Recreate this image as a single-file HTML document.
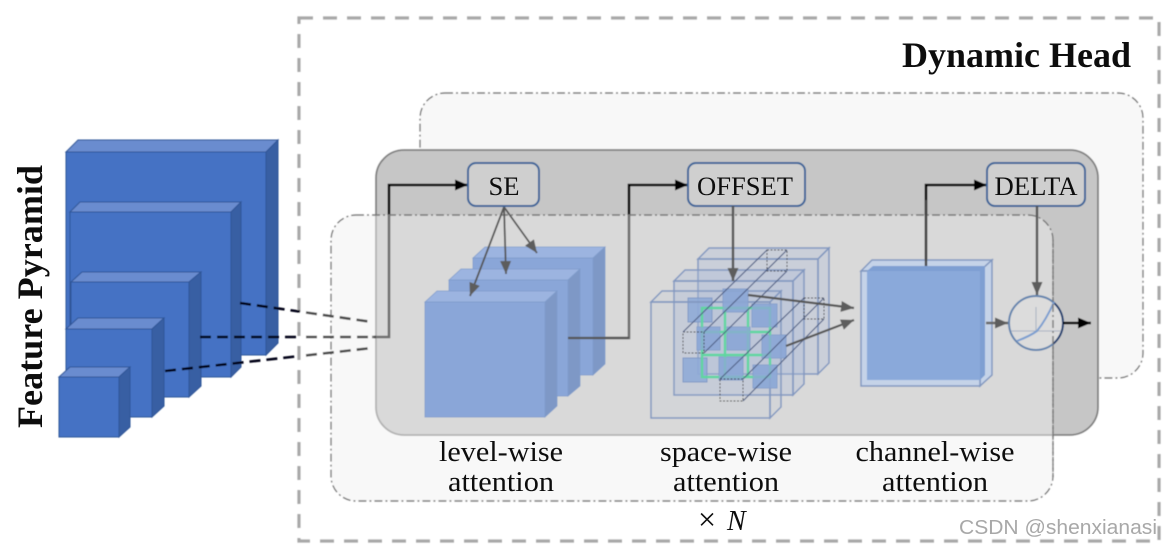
<!DOCTYPE html>
<html><head><meta charset="utf-8"><style>html,body{margin:0;padding:0;background:#fff}svg{display:block}text{font-family:"Liberation Serif",serif;fill:#111}</style></head><body>
<svg xmlns="http://www.w3.org/2000/svg" width="1163" height="547" viewBox="0 0 1163 547">
<defs>
<marker id="k" markerUnits="userSpaceOnUse" markerWidth="14" markerHeight="12" refX="13" refY="6" orient="auto"><path d="M0 0.5L13 6L0 11.5Z" fill="#000"/></marker>
<marker id="g" markerUnits="userSpaceOnUse" markerWidth="14" markerHeight="12" refX="13" refY="6" orient="auto"><path d="M0 0.5L13 6L0 11.5Z" fill="#5d5d5d"/></marker>
<filter id="b"><feGaussianBlur stdDeviation="0.5"/></filter>
<filter id="t"><feGaussianBlur stdDeviation="0.3"/></filter>
</defs>
<g filter="url(#b)">
<rect x="299" y="18" width="860" height="523" fill="#fff" stroke="#a8a8a8" stroke-width="3.2" stroke-dasharray="14 10"/>
<rect x="420" y="93" width="723" height="285" rx="25" fill="#f8f8f8" stroke="#777" stroke-width="1.4" stroke-dasharray="8 3 2 3"/>
<rect x="376" y="150" width="722" height="285" rx="28" fill="#c6c6c6" stroke="#808080" stroke-width="1.8"/>
<!-- lines under overlay -->
<path d="M372 337H389V185H468" fill="none" stroke="#000" stroke-width="2.6" marker-end="url(#k)"/>
<path d="M568 338H629V185H688" fill="none" stroke="#000" stroke-width="2.6" marker-end="url(#k)"/>
<path d="M926 265V185H987" fill="none" stroke="#000" stroke-width="2.6" marker-end="url(#k)"/>
<rect x="331" y="215" width="722" height="286" rx="25" fill="#efefef" fill-opacity=".46" stroke="#777" stroke-width="1.4" stroke-dasharray="8 3 2 3"/>
<!-- pyramid -->
<g stroke="#2f5597" stroke-width="1">
<path d="M66 152L78 140H278L266 152Z" fill="#6a8ccf"/><path d="M266 152L278 140V343L266 355Z" fill="#375fa3"/><rect x="66" y="152" width="200" height="203" fill="#4472c4"/>
<path d="M70 212L80 202H241L231 212Z" fill="#6a8ccf"/><path d="M231 212L241 202V367L231 377Z" fill="#375fa3"/><rect x="70" y="212" width="161" height="165" fill="#4472c4"/>
<path d="M71 282L82 272H201L189 282Z" fill="#6a8ccf"/><path d="M189 282L201 272V386L189 397Z" fill="#375fa3"/><rect x="71" y="282" width="118" height="115" fill="#4472c4"/>
<path d="M66 329L78 318H164L152 329Z" fill="#6a8ccf"/><path d="M152 329L164 318V406L152 417Z" fill="#375fa3"/><rect x="66" y="329" width="86" height="88" fill="#4472c4"/>
<path d="M59 377L70 367H130L119 377Z" fill="#6a8ccf"/><path d="M119 377L130 367V427L119 437Z" fill="#375fa3"/><rect x="59" y="377" width="60" height="60" fill="#4472c4"/>
</g>
<g fill="none" stroke-width="2.6" stroke-dasharray="11 6">
<path d="M240 303L300 311.6" stroke="#050518"/><path d="M306 312.5L372 322" stroke="#4a4a4a"/>
<path d="M200 337H300" stroke="#050518"/><path d="M306 337H376" stroke="#4a4a4a"/>
<path d="M165 371L300 356" stroke="#050518"/><path d="M306 355.4L372 348" stroke="#4a4a4a"/>
</g>
<!-- level-wise cubes -->
<g stroke="#7f9ccb" stroke-width=".8">
<path d="M473 258L485 247H605L593 258Z" fill="#9cb4e0"/><path d="M593 258L605 247V364L593 375Z" fill="#7e98c6"/><rect x="473" y="258" width="120" height="117" fill="#8aa6d8"/>
<path d="M449 280L461 269H580L568 280Z" fill="#9cb4e0"/><path d="M568 280L580 269V386L568 396Z" fill="#7e98c6"/><rect x="449" y="280" width="119" height="116" fill="#8aa6d8"/>
<path d="M425 302L437 291H557L545 302Z" fill="#9cb4e0"/><path d="M545 302L557 291V406L545 417Z" fill="#7e98c6"/><rect x="425" y="302" width="120" height="115" fill="#8aa6d8"/>
</g>
<path d="M568 338H629" stroke="#555" stroke-width="2.2"/>
<g fill="none" stroke="#555" stroke-width="1.8" marker-end="url(#g)">
<path d="M504 207L470 296"/><path d="M504 207L506 274"/><path d="M504 207L537 253"/>
</g>
<!-- boxes -->
<g fill="#cfcfcf" stroke="#3a6399" stroke-width="2">
<rect x="468" y="163" width="71" height="43" rx="8"/><rect x="688" y="163" width="117" height="43" rx="8"/><rect x="987" y="163" width="98" height="43" rx="8"/>
</g>
<!-- space-wise -->
<g stroke="#8298c0" stroke-width="1.5" fill="#a9bbdc" fill-opacity=".3">
<path d="M698 259L709 248H829L818 259Z"/><path d="M818 259L829 248V363L818 374Z"/><rect x="698" y="259" width="120" height="115"/>
<path d="M674 281L685 270H804L793 281Z"/><path d="M793 281L804 270V384L793 395Z"/><rect x="674" y="281" width="119" height="114"/>
</g>
<g fill="#8da8d6" fill-opacity=".9" stroke="#7d97c4" stroke-width="1">
<rect x="688" y="298" width="24" height="24"/><rect x="723" y="289" width="25" height="23"/><rect x="752" y="304" width="25" height="23"/>
<rect x="697" y="327" width="23" height="23"/><rect x="727" y="327" width="23" height="23"/><rect x="762" y="335" width="24" height="23"/>
<rect x="683" y="358" width="24" height="24"/><rect x="719" y="357" width="24" height="23"/><rect x="753" y="365" width="24" height="23"/>
</g>
<g stroke="#8298c0" stroke-width="1.5" fill="#a9bbdc" fill-opacity=".1">
<path d="M651 302L662 291H781L770 302Z"/><path d="M770 302L781 291V407L770 418Z"/><rect x="651" y="302" width="119" height="116"/>
</g>
<path d="M702 308H770V377H702ZM725 308V377M748 308V377M702 332H770M702 355H770" fill="none" stroke="#5fd6a0" stroke-width="2.4"/>
<g fill="#8da8d6" fill-opacity=".75">
<rect x="723" y="289" width="25" height="23"/><rect x="752" y="304" width="25" height="23"/>
<rect x="697" y="327" width="23" height="23"/><rect x="727" y="327" width="23" height="23"/><rect x="762" y="335" width="24" height="23"/>
<rect x="719" y="357" width="24" height="23"/><rect x="753" y="365" width="24" height="23"/>
</g>
<g fill="none" stroke="#333" stroke-width="1" stroke-dasharray="2 1.5">
<rect x="683" y="332" width="21" height="21"/><rect x="720" y="379" width="23" height="22"/><rect x="767" y="250" width="20" height="21"/><rect x="804" y="298" width="20" height="21"/>
</g>
<path d="M683 332L767 250M704 332L787 250M704 353L787 271M720 379L804 298M743 379L824 298M743 401L824 319" fill="none" stroke="#4c5b82" stroke-width="1.1"/>
<path d="M733 206V281" stroke="#555" stroke-width="2.4" marker-end="url(#g)"/>
<path d="M748 295L854 308" stroke="#555" stroke-width="2.2" fill="none" marker-end="url(#g)"/>
<path d="M786 346L854 320" stroke="#555" stroke-width="2.2" fill="none" marker-end="url(#g)"/>
<!-- channel-wise -->
<path d="M861 271L872 260H992L980 271Z" fill="#c5d3e8" stroke="#8298c0" stroke-width="1.5"/>
<path d="M980 271L992 260V375L980 386Z" fill="#c5d3e8" stroke="#8298c0" stroke-width="1.5"/>
<rect x="861" y="271" width="119" height="115" fill="#c5d3e8" stroke="#8298c0" stroke-width="1.5"/>
<path d="M867 271L873 266H985V375L980 380H867Z" fill="#7e9fd2"/>
<rect x="867" y="271" width="113" height="109" fill="#8aa9da"/>
<path d="M926 266V200" stroke="#444" stroke-width="2.4"/>
<path d="M986 323H1008" stroke="#666" stroke-width="2.4" marker-end="url(#g)"/>
<path d="M1037 206V295" stroke="#555" stroke-width="2.4" marker-end="url(#g)"/>
<circle cx="1036" cy="323" r="27" fill="#dcdcdc" stroke="#6484ae" stroke-width="2"/>
<path d="M1053 302A27 27 0 0 1 1053 344" fill="none" stroke="#22416f" stroke-width="2"/>
<path d="M1011 331H1061M1036 307V331" fill="none" stroke="#9aa7ba" stroke-width=".8"/>
<path d="M1017 341Q1030 336 1037 331Q1046 320 1054 302" fill="none" stroke="#7d9fd0" stroke-width="2"/>
<path d="M1063 323H1091" stroke="#000" stroke-width="2.6" marker-end="url(#k)"/>
<path d="M1053 240V480" stroke="#777" stroke-width="1.4" stroke-dasharray="8 3 2 3" fill="none"/>
</g>
<!-- text -->
<g filter="url(#t)">
<text x="902" y="67" font-size="36" font-weight="bold" textLength="229" lengthAdjust="spacingAndGlyphs">Dynamic Head</text>
<text transform="translate(42 428) rotate(-90)" font-size="36" font-weight="bold" textLength="263" lengthAdjust="spacingAndGlyphs">Feature Pyramid</text>
<g font-size="26" text-anchor="middle">
<text x="504" y="195" textLength="31" lengthAdjust="spacingAndGlyphs">SE</text><text x="745" y="195" textLength="96" lengthAdjust="spacingAndGlyphs">OFFSET</text><text x="1036" y="195" textLength="83" lengthAdjust="spacingAndGlyphs">DELTA</text>
</g>
<g font-size="28" text-anchor="middle">
<text x="501" y="461" textLength="124" lengthAdjust="spacingAndGlyphs">level-wise</text><text x="501" y="491" textLength="106" lengthAdjust="spacingAndGlyphs">attention</text>
<text x="726" y="461" textLength="132" lengthAdjust="spacingAndGlyphs">space-wise</text><text x="726" y="491" textLength="106" lengthAdjust="spacingAndGlyphs">attention</text>
<text x="935" y="461" textLength="159" lengthAdjust="spacingAndGlyphs">channel-wise</text><text x="935" y="491" textLength="106" lengthAdjust="spacingAndGlyphs">attention</text>
</g>
<text x="698" y="530" font-size="32">×</text>
<text x="727" y="530" font-size="28" font-style="italic">N</text>
<text x="959" y="534" font-size="20" textLength="198" lengthAdjust="spacingAndGlyphs" style="font-family:'Liberation Sans',sans-serif;fill:#a8a8a8">CSDN @shenxianasi</text>
</g>
</svg>
</body></html>
